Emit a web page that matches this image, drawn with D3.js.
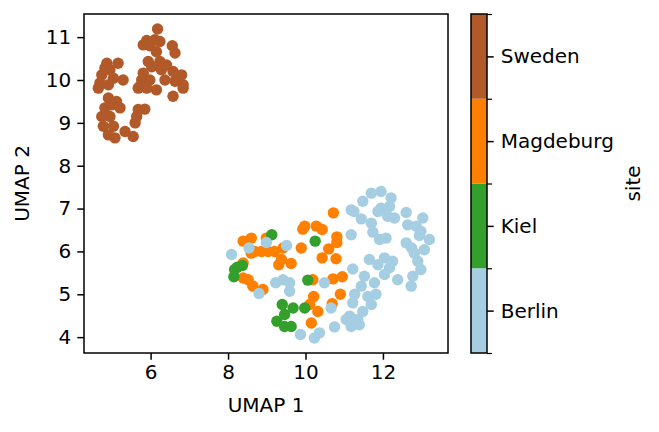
<html>
<head>
<script src="https://cdn.jsdelivr.net/npm/d3@7"></script>
<style>
  body { margin: 0; background: #fff; }
  text { font-family: "DejaVu Sans", sans-serif; fill: #000; }
</style>
</head>
<body>
<svg id="chart" width="659" height="432"></svg>
<script>
// categories and colours of the colour bar, bottom to top
let sites = ["Berlin", "Kiel", "Magdeburg", "Sweden"]
let siteColors = ["#a6cee3", "#33a02c", "#ff7f00", "#b15928"]

// UMAP coordinates [UMAP 1, UMAP 2]
let sweden = [
  [6.18, 11.19], [5.90, 10.92], [6.11, 10.94], [6.24, 10.90], [5.81, 10.82], [5.98, 10.80],
  [6.56, 10.80], [6.15, 10.66], [6.63, 10.63], [5.94, 10.43], [6.24, 10.43], [6.41, 10.35],
  [6.03, 10.31], [6.28, 10.24], [6.58, 10.20], [6.80, 10.12], [5.81, 10.16], [5.77, 10.00],
  [6.37, 10.00], [5.98, 10.00], [6.63, 9.97], [6.84, 9.89], [5.72, 9.85], [5.90, 9.81],
  [5.68, 9.81], [6.15, 9.77], [6.84, 9.81], [6.58, 9.62],
  [4.87, 10.39], [5.16, 10.39], [4.95, 10.24], [4.74, 10.12], [5.04, 10.04], [5.29, 10.00],
  [4.69, 9.93], [4.91, 9.89], [4.65, 9.81], [4.82, 10.28], [4.91, 9.58], [5.12, 9.50],
  [4.99, 9.42], [4.82, 9.35], [5.21, 9.35], [5.68, 9.31], [5.85, 9.32], [4.74, 9.15],
  [4.95, 9.15], [5.64, 9.15], [5.60, 9.00], [4.78, 8.92], [5.04, 8.92], [4.91, 8.72],
  [5.08, 8.65], [5.34, 8.80], [5.55, 8.68]
]
let magdeburg = [
  [10.72, 6.90], [9.98, 6.59], [9.93, 6.52], [10.28, 6.59], [10.43, 6.51], [10.81, 6.34],
  [10.81, 6.21], [10.60, 6.06], [10.43, 5.85], [10.79, 5.83], [9.89, 6.08], [9.63, 5.72],
  [9.31, 5.69], [9.38, 5.81], [9.42, 6.08], [9.20, 6.00], [9.03, 6.00], [8.86, 6.00],
  [8.69, 6.00], [8.60, 5.96], [8.39, 6.24], [8.60, 6.31], [8.99, 6.31], [8.39, 5.73],
  [8.39, 5.38], [8.52, 5.34], [8.64, 5.19], [8.90, 5.11], [10.19, 5.34], [10.71, 5.36],
  [10.95, 5.41], [10.21, 4.95], [10.90, 5.00], [10.69, 4.78], [10.11, 4.76], [10.32, 4.60],
  [10.15, 4.33]
]
let kiel = [
  [9.13, 6.39], [10.25, 6.24], [8.37, 5.67], [8.24, 5.63], [8.17, 5.58], [8.15, 5.41],
  [10.06, 5.33], [9.40, 4.76], [9.68, 4.68], [9.98, 4.68], [9.46, 4.53], [9.26, 4.37],
  [9.46, 4.25], [9.63, 4.25]
]
let berlin = [
  [8.09, 5.93], [8.54, 6.08], [8.99, 6.21], [9.51, 6.14], [9.23, 5.27], [9.42, 5.34],
  [9.59, 5.27], [9.59, 5.07], [8.80, 5.02], [10.49, 5.27], [10.66, 4.68], [10.75, 4.24],
  [9.87, 4.06], [10.23, 3.98], [10.36, 4.10],
  [11.70, 7.36], [11.95, 7.40], [12.21, 7.25], [11.48, 7.17], [11.18, 6.97], [11.25, 6.93],
  [11.87, 6.93], [12.17, 7.05], [11.95, 7.01], [11.44, 6.76], [12.12, 6.82], [12.30, 6.78],
  [12.60, 6.91], [13.03, 6.78], [11.70, 6.66], [11.74, 6.45], [11.91, 6.28], [12.08, 6.31],
  [11.18, 6.39], [12.64, 6.62], [12.86, 6.59], [12.98, 6.47], [13.20, 6.28], [12.60, 6.20],
  [12.81, 5.96], [13.07, 6.04], [12.90, 5.77], [12.98, 5.58], [12.77, 5.42], [12.73, 5.19],
  [11.65, 5.81], [12.04, 5.85], [12.25, 5.77], [11.22, 5.59], [12.04, 5.46], [12.17, 5.62],
  [11.87, 5.69], [12.38, 5.34], [11.52, 5.42], [11.44, 5.19], [11.78, 5.27], [11.27, 5.00],
  [11.61, 4.95], [11.82, 5.00], [11.22, 4.80], [11.70, 4.76], [11.48, 4.60], [11.14, 4.49],
  [11.35, 4.41], [11.05, 4.41], [11.18, 4.25], [11.39, 4.29], [12.94, 6.37], [12.74, 6.08]
]

let xTicks = [6, 8, 10, 12]
let yTicks = [4, 5, 6, 7, 8, 9, 10, 11]

let svg = d3.select("#chart")
let plotL = 84, plotR = 448, plotT = 14, plotB = 353
let fontSize = "20px"

let x = d3.scaleLinear().domain([4.28, 13.68]).range([plotL, plotR])
let y = d3.scaleLinear().domain([3.63, 11.54]).range([plotB, plotT])
let color = d3.scaleOrdinal().domain(sites).range(siteColors)

// points, drawn in this order so overlaps look like the picture
let groups = [["Magdeburg", magdeburg], ["Kiel", kiel], ["Berlin", berlin], ["Sweden", sweden]]
groups.forEach(([site, pts]) => {
  svg.append("g").selectAll("circle")
    .data(pts)
    .enter()
    .append("circle")
    .attr("cx", d => x(d[0]))
    .attr("cy", d => y(d[1]))
    .attr("r", 5.7)
    .style("fill", color(site))
})

// frame
svg.append("rect")
  .attr("x", plotL).attr("y", plotT)
  .attr("width", plotR - plotL).attr("height", plotB - plotT)
  .style("fill", "none").style("stroke", "#000").style("stroke-width", 1.5)

let xAxis = svg.append("g")
  .attr("transform", `translate(0,${plotB})`)
  .call(d3.axisBottom(x).tickValues(xTicks).tickSize(6.7).tickPadding(5))
let yAxis = svg.append("g")
  .attr("transform", `translate(${plotL},0)`)
  .call(d3.axisLeft(y).tickValues(yTicks).tickSize(6.7).tickPadding(6))

;[xAxis, yAxis].forEach(a => {
  a.select(".domain").remove()
  a.selectAll("line").style("stroke", "#000").style("stroke-width", 1.5)
  a.selectAll("text").style("font-size", fontSize).style("fill", "#000")
    .style("font-family", "DejaVu Sans")
})

svg.append("text")
  .attr("x", (plotL + plotR) / 2).attr("y", 412)
  .attr("text-anchor", "middle")
  .style("font-size", fontSize)
  .text("UMAP 1")

svg.append("text")
  .attr("transform", `translate(29,${(plotT + plotB) / 2}) rotate(-90)`)
  .attr("text-anchor", "middle")
  .style("font-size", fontSize)
  .text("UMAP 2")

// colour bar
let cbLeft = 471, cbRight = 487
let cb = d3.scaleLinear().domain([0, sites.length]).range([plotB, plotT])

svg.append("g").selectAll("rect")
  .data(sites)
  .enter()
  .append("rect")
  .attr("x", cbLeft)
  .attr("y", (d, i) => cb(i + 1))
  .attr("width", cbRight - cbLeft)
  .attr("height", (d, i) => cb(i) - cb(i + 1))
  .style("fill", d => color(d))

svg.append("rect")
  .attr("x", cbLeft).attr("y", plotT)
  .attr("width", cbRight - cbLeft).attr("height", plotB - plotT)
  .style("fill", "none").style("stroke", "#000").style("stroke-width", 1.5)

// boundary ticks
let cbMinor = svg.append("g")
  .attr("transform", `translate(${cbRight},0)`)
  .call(d3.axisRight(cb).tickValues(d3.range(sites.length + 1)).tickSize(5).tickFormat(""))
cbMinor.select(".domain").remove()
cbMinor.selectAll("line").style("stroke", "#000").style("stroke-width", 1.2)

// labelled ticks at the centres
let cbAxis = svg.append("g")
  .attr("transform", `translate(${cbRight},0)`)
  .call(d3.axisRight(cb)
    .tickValues(sites.map((d, i) => i + 0.5))
    .tickFormat((d, i) => sites[i])
    .tickSize(6.7).tickPadding(7))
cbAxis.select(".domain").remove()
cbAxis.selectAll("line").style("stroke", "#000").style("stroke-width", 1.5)
cbAxis.selectAll("text").style("font-size", fontSize).style("fill", "#000")
  .style("font-family", "DejaVu Sans")

svg.append("text")
  .attr("transform", `translate(640,${(plotT + plotB) / 2}) rotate(-90)`)
  .attr("text-anchor", "middle")
  .style("font-size", fontSize)
  .text("site")
</script>
</body>
</html>
